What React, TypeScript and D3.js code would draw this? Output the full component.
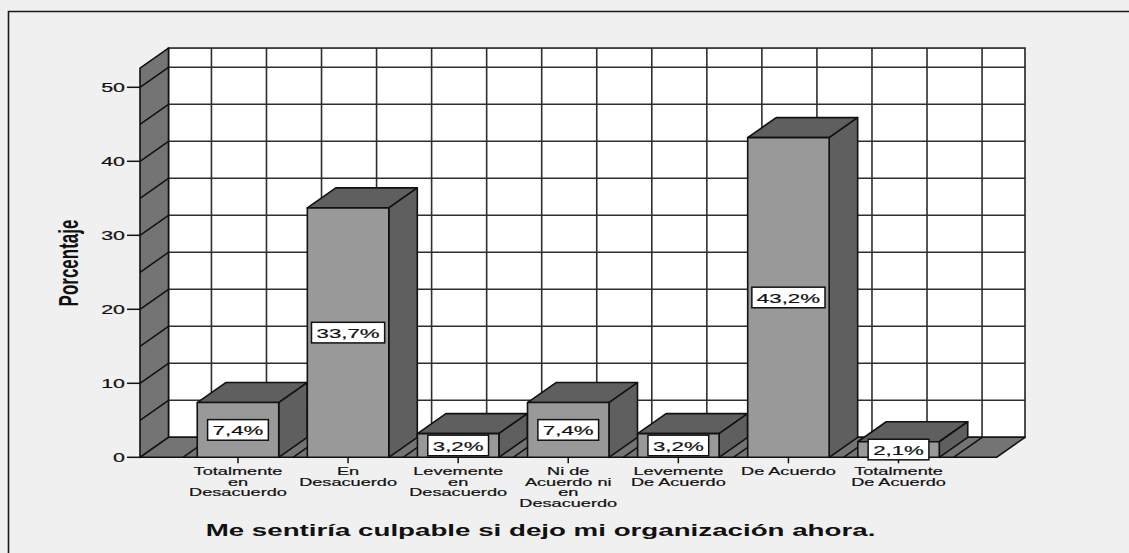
import React, { useEffect, useRef } from "react";
import * as d3 from "d3";

const categories = [
  "Totalmente en Desacuerdo",
  "En Desacuerdo",
  "Levemente en Desacuerdo",
  "Ni de Acuerdo ni en Desacuerdo",
  "Levemente De Acuerdo",
  "De Acuerdo",
  "Totalmente De Acuerdo",
];
const categoryLines = [
  ["Totalmente", "en", "Desacuerdo"],
  ["En", "Desacuerdo"],
  ["Levemente", "en", "Desacuerdo"],
  ["Ni de", "Acuerdo ni", "en", "Desacuerdo"],
  ["Levemente", "De Acuerdo"],
  ["De Acuerdo"],
  ["Totalmente", "De Acuerdo"],
];
const percentages = [7.4, 33.7, 3.2, 7.4, 3.2, 43.2, 2.1];
const valueLabels = ["7,4%", "33,7%", "3,2%", "7,4%", "3,2%", "43,2%", "2,1%"];
const yTicks = [0, 10, 20, 30, 40, 50];
const gridValues = [5, 10, 15, 20, 25, 30, 35, 40, 45, 50];
const yMax = 52.6;
const xTitle = "Me sentiría culpable si dejo mi organización ahora.";
const yTitle = "Porcentaje";

const W = 1129;
const H = 553;
const DX = 28.5;
const DY = 20;
const SX = 1.65;
const FONT = "'Liberation Sans', Arial, Helvetica, sans-serif";
const WALL = "#747474";
const DARK = "#5f5f5f";
const FRONT = "#999999";
const GRID = "#2e2e2e";

export default function App() {
  const ref = useRef<SVGSVGElement>(null);

  useEffect(() => {
    const svg = d3.select(ref.current);
    svg.selectAll("*").remove();

    const y = d3.scaleLinear().domain([0, 50]).range([457.3, 87.3]);
    const x = d3
      .scaleBand<string>()
      .domain(categories)
      .range([140, 996.5])
      .paddingInner(0.26)
      .paddingOuter(0.52);
    const bw = x.bandwidth();
    const step = x.step();
    const y0 = y(0);
    const yTop = y(yMax);
    const xL = x.range()[0];
    const xR = x.range()[1];

    // background
    svg.append("rect").attr("x", 0).attr("y", 0).attr("width", W).attr("height", H).attr("fill", "#f0f0f0");
    svg
      .append("path")
      .attr("d", `M8.5,${H + 2} L8.5,11.5 L${W + 2},11.5`)
      .attr("fill", "none")
      .attr("stroke", "#1a1a1a")
      .attr("stroke-width", 1.6);

    // back wall
    svg
      .append("rect")
      .attr("x", xL + DX)
      .attr("y", yTop - DY)
      .attr("width", xR - xL)
      .attr("height", y0 - yTop)
      .attr("fill", "#ffffff");

    const gridXs: number[] = [];
    categories.forEach((c) => {
      const cx = (x(c) as number) + bw / 2;
      gridXs.push(cx - step / 2);
      gridXs.push(cx);
    });
    gridXs.push((x(categories[categories.length - 1]) as number) + bw / 2 + step / 2);

    const g = svg.append("g");
    gridValues.forEach((v) => {
      g.append("line")
        .attr("x1", xL + DX)
        .attr("x2", xR + DX)
        .attr("y1", y(v) - DY)
        .attr("y2", y(v) - DY)
        .attr("stroke", GRID)
        .attr("stroke-width", 1.6);
    });
    gridXs.forEach((gx) => {
      g.append("line")
        .attr("x1", gx + DX)
        .attr("x2", gx + DX)
        .attr("y1", yTop - DY)
        .attr("y2", y0 - DY)
        .attr("stroke", GRID)
        .attr("stroke-width", 1.6);
    });
    svg
      .append("rect")
      .attr("x", xL + DX)
      .attr("y", yTop - DY)
      .attr("width", xR - xL)
      .attr("height", y0 - yTop)
      .attr("fill", "none")
      .attr("stroke", "#222")
      .attr("stroke-width", 1.6);

    // left wall
    svg
      .append("path")
      .attr("d", `M${xL},${y0} L${xL},${yTop} L${xL + DX},${yTop - DY} L${xL + DX},${y0 - DY} Z`)
      .attr("fill", WALL)
      .attr("stroke", "#111")
      .attr("stroke-width", 1.6)
      .attr("stroke-linejoin", "round");
    gridValues.forEach((v) => {
      svg
        .append("line")
        .attr("x1", xL)
        .attr("y1", y(v))
        .attr("x2", xL + DX)
        .attr("y2", y(v) - DY)
        .attr("stroke", "#111")
        .attr("stroke-width", 1.5);
    });

    // floor
    svg
      .append("path")
      .attr("d", `M${xL},${y0} L${xR},${y0} L${xR + DX},${y0 - DY} L${xL + DX},${y0 - DY} Z`)
      .attr("fill", WALL)
      .attr("stroke", "#111")
      .attr("stroke-width", 1.6)
      .attr("stroke-linejoin", "round");
    gridXs.forEach((gx) => {
      svg
        .append("line")
        .attr("x1", gx)
        .attr("y1", y0)
        .attr("x2", gx + DX)
        .attr("y2", y0 - DY)
        .attr("stroke", "#111")
        .attr("stroke-width", 1.5);
    });

    // bars
    categories.forEach((c, i) => {
      const x0 = x(c) as number;
      const x1 = x0 + bw;
      const yt = y(percentages[i]);
      const bg = svg.append("g").attr("stroke", "#111").attr("stroke-width", 1.6).attr("stroke-linejoin", "round");
      bg.append("path")
        .attr("d", `M${x0},${yt} L${x1},${yt} L${x1 + DX},${yt - DY} L${x0 + DX},${yt - DY} Z`)
        .attr("fill", DARK);
      bg.append("path")
        .attr("d", `M${x1},${yt} L${x1 + DX},${yt - DY} L${x1 + DX},${y0 - DY} L${x1},${y0} Z`)
        .attr("fill", DARK);
      bg.append("rect")
        .attr("x", x0)
        .attr("y", yt)
        .attr("width", bw)
        .attr("height", y0 - yt)
        .attr("fill", FRONT);
    });

    // y axis ticks & labels
    yTicks.forEach((t) => {
      svg
        .append("line")
        .attr("x1", 127)
        .attr("x2", xL)
        .attr("y1", y(t))
        .attr("y2", y(t))
        .attr("stroke", "#111")
        .attr("stroke-width", 1.5);
      svg
        .append("g")
        .attr("transform", `translate(125,${y(t) + 4.7}) scale(${SX},1)`)
        .append("text")
        .attr("text-anchor", "end")
        .attr("font-family", FONT)
        .attr("font-size", 13)
        .attr("fill", "#111")
        .attr("stroke", "#111")
        .attr("stroke-width", 0.2)
        .text(String(t));
    });

    // x ticks & labels
    categories.forEach((c, i) => {
      const cx = (x(c) as number) + bw / 2;
      svg
        .append("line")
        .attr("x1", cx)
        .attr("x2", cx)
        .attr("y1", y0)
        .attr("y2", y0 + 6)
        .attr("stroke", "#111")
        .attr("stroke-width", 1.5);
      categoryLines[i].forEach((line, j) => {
        svg
          .append("g")
          .attr("transform", `translate(${cx},${475 + j * 10.7}) scale(${SX},1)`)
          .append("text")
          .attr("text-anchor", "middle")
          .attr("font-family", FONT)
          .attr("font-size", 11)
          .attr("fill", "#111")
          .attr("stroke", "#111")
          .attr("stroke-width", 0.2)
          .text(line);
      });
    });

    // value labels
    categories.forEach((c, i) => {
      const cx = (x(c) as number) + bw / 2;
      const yt = y(percentages[i]);
      const cy = (yt + y0) / 2;
      const lg = svg.append("g");
      const rect = lg.append("rect");
      const tg = lg.append("g").attr("transform", `translate(${cx},${cy + 5.5}) scale(${SX},1)`);
      const txt = tg
        .append("text")
        .attr("text-anchor", "middle")
        .attr("font-family", FONT)
        .attr("font-size", 13.5)
        .attr("fill", "#111")
        .attr("stroke", "#111")
        .attr("stroke-width", 0.2)
        .text(valueLabels[i]);
      const tw = (txt.node() as SVGTextElement).getComputedTextLength() * SX;
      const bwid = tw + 10;
      rect
        .attr("x", cx - bwid / 2)
        .attr("y", cy - 10.3)
        .attr("width", bwid)
        .attr("height", 20.6)
        .attr("fill", "#ffffff")
        .attr("stroke", "#111")
        .attr("stroke-width", 1.5);
    });

    // x title
    svg
      .append("g")
      .attr("transform", `translate(540.5,536) scale(${SX},1)`)
      .append("text")
      .attr("text-anchor", "middle")
      .attr("font-family", FONT)
      .attr("font-size", 16.8)
      .attr("font-weight", "bold")
      .attr("fill", "#111")
      .text(xTitle);

    // y title
    svg
      .append("g")
      .attr("transform", `translate(78,263) scale(${SX},1) rotate(-90)`)
      .append("text")
      .attr("text-anchor", "middle")
      .attr("font-family", FONT)
      .attr("font-size", 17)
      .attr("font-weight", "bold")
      .attr("fill", "#111")
      .text(yTitle);
  }, []);

  return (
    <svg
      ref={ref}
      width={W}
      height={H}
      style={{ position: "absolute", left: 0, top: 0, display: "block" }}
    />
  );
}
